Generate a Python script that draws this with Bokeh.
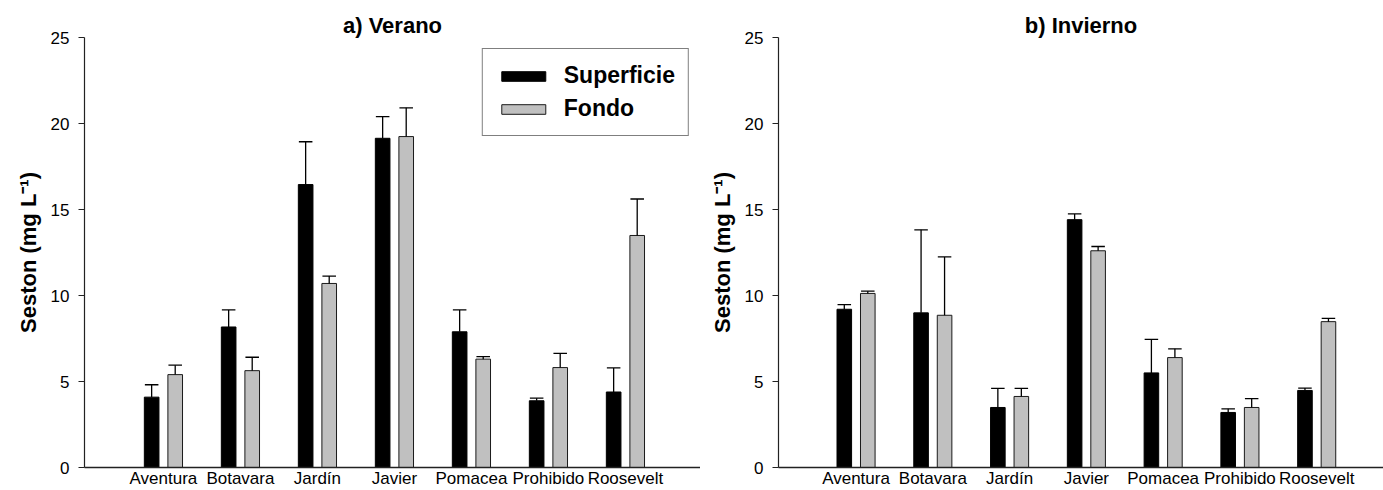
from bokeh.plotting import figure
from bokeh.layouts import row
from bokeh.models import Range1d, FixedTicker, Legend, LegendItem
from bokeh.embed import file_html
from bokeh.resources import INLINE

# ---- data ----
sites = ["Aventura", "Botavara", "Jardín", "Javier", "Pomacea", "Prohibido", "Roosevelt"]

verano_sup = [4.09, 8.17, 16.45, 19.14, 7.89, 3.88, 4.39]
verano_sup_se = [0.72, 0.99, 2.49, 1.26, 1.27, 0.15, 1.40]
verano_fon = [5.40, 5.63, 10.70, 19.24, 6.30, 5.81, 13.49]
verano_fon_se = [0.55, 0.78, 0.43, 1.67, 0.15, 0.82, 2.12]

invierno_sup = [9.20, 8.99, 3.49, 14.41, 5.50, 3.20, 4.48]
invierno_sup_se = [0.27, 4.83, 1.11, 0.33, 1.95, 0.21, 0.14]
invierno_fon = [10.12, 8.85, 4.13, 12.60, 6.39, 3.49, 8.48]
invierno_fon_se = [0.13, 3.39, 0.47, 0.25, 0.51, 0.51, 0.19]

series_names = ["Superficie", "Fondo"]
y_ticks = [0, 5, 10, 15, 20, 25]
y_label = "Seston (mg L⁻¹)"

FONT = "Liberation Sans"
BAR_W = 0.19
OFF = 0.153
CAP = 0.088
H = 490


def make_panel(title, sup, sup_se, fon, fon_se, width, min_left, x_start, x_end, with_legend, t_off):
    p = figure(width=width, height=H, x_range=Range1d(x_start, x_end), y_range=Range1d(0, 25),
               output_backend="svg", toolbar_location=None, title=title,
               min_border_left=min_left, min_border_right=0, min_border_top=37,
               min_border_bottom=0)
    pos = list(range(1, len(sites) + 1))
    xs = [i - OFF for i in pos]
    xf = [i + OFF for i in pos]
    r1 = p.vbar(x=xs, top=sup, width=BAR_W, fill_color="black", line_color="black", line_width=1)
    r2 = p.vbar(x=xf, top=fon, width=BAR_W, fill_color="#c0c0c0", line_color="#1a1a1a", line_width=1)
    for xx, m, e in ((xs, sup, sup_se), (xf, fon, fon_se)):
        tops = [a + b for a, b in zip(m, e)]
        p.segment(x0=xx, y0=m, x1=xx, y1=tops, line_color="black", line_width=1.3)
        p.segment(x0=[v - CAP for v in xx], y0=tops, x1=[v + CAP for v in xx], y1=tops,
                  line_color="black", line_width=1.3)

    p.title.text_font = FONT
    p.title.text_font_size = "22px"
    p.title.text_font_style = "bold"
    p.title.align = "center"
    p.title.offset = t_off
    p.title.text_color = "black"
    p.title.standoff = 0

    p.xgrid.visible = False
    p.ygrid.visible = False
    p.outline_line_color = None

    xa = p.xaxis[0]
    xa.ticker = FixedTicker(ticks=pos)
    xa.major_label_overrides = {i: s for i, s in zip(pos, sites)}
    xa.major_tick_out = 0
    xa.major_tick_in = 0
    xa.minor_tick_out = 0
    xa.minor_tick_in = 0
    xa.major_label_standoff = 1
    xa.major_label_text_font = FONT
    xa.major_label_text_font_size = "17px"
    xa.major_label_text_color = "black"
    xa.axis_line_color = "#222222"
    xa.axis_line_width = 1.6

    ya = p.yaxis[0]
    ya.ticker = FixedTicker(ticks=y_ticks)
    ya.major_tick_out = 6
    ya.major_tick_in = 0
    ya.minor_tick_out = 0
    ya.minor_tick_in = 0
    ya.major_tick_line_color = "#222222"
    ya.major_tick_line_width = 1.2
    ya.major_label_standoff = 9
    ya.major_label_text_font = FONT
    ya.major_label_text_font_size = "17px"
    ya.major_label_text_color = "black"
    ya.axis_line_color = "#222222"
    ya.axis_line_width = 1.2
    ya.axis_label = y_label
    ya.axis_label_text_font = FONT
    ya.axis_label_text_font_size = "22px"
    ya.axis_label_text_font_style = "bold"
    ya.axis_label_text_color = "black"
    ya.axis_label_standoff = 7

    if with_legend:
        legend = Legend(items=[LegendItem(label=series_names[0], renderers=[r1]),
                               LegendItem(label=series_names[1], renderers=[r2])],
                        location="top_right")
        legend.margin = 11
        legend.padding = 13
        legend.spacing = 6
        legend.glyph_width = 55
        legend.glyph_height = 12
        legend.label_height = 24
        legend.label_standoff = 13
        legend.label_text_font = FONT
        legend.label_text_font_size = "23px"
        legend.label_text_font_style = "bold"
        legend.label_text_color = "black"
        legend.border_line_color = "black"
        legend.border_line_width = 1.5
        legend.background_fill_color = "white"
        legend.background_fill_alpha = 1
        p.add_layout(legend, "center")
    return p


p1 = make_panel("a) Verano", verano_sup, verano_sup_se, verano_fon, verano_fon_se,
                700, 84, -0.025, 7.975, True, 10)
p2 = make_panel("b) Invierno", invierno_sup, invierno_sup_se, invierno_fon, invierno_fon_se,
                683, 78, -0.01, 7.87, False, 2)

layout = row(p1, p2)
open("out.html", "w").write(file_html(layout, INLINE))
